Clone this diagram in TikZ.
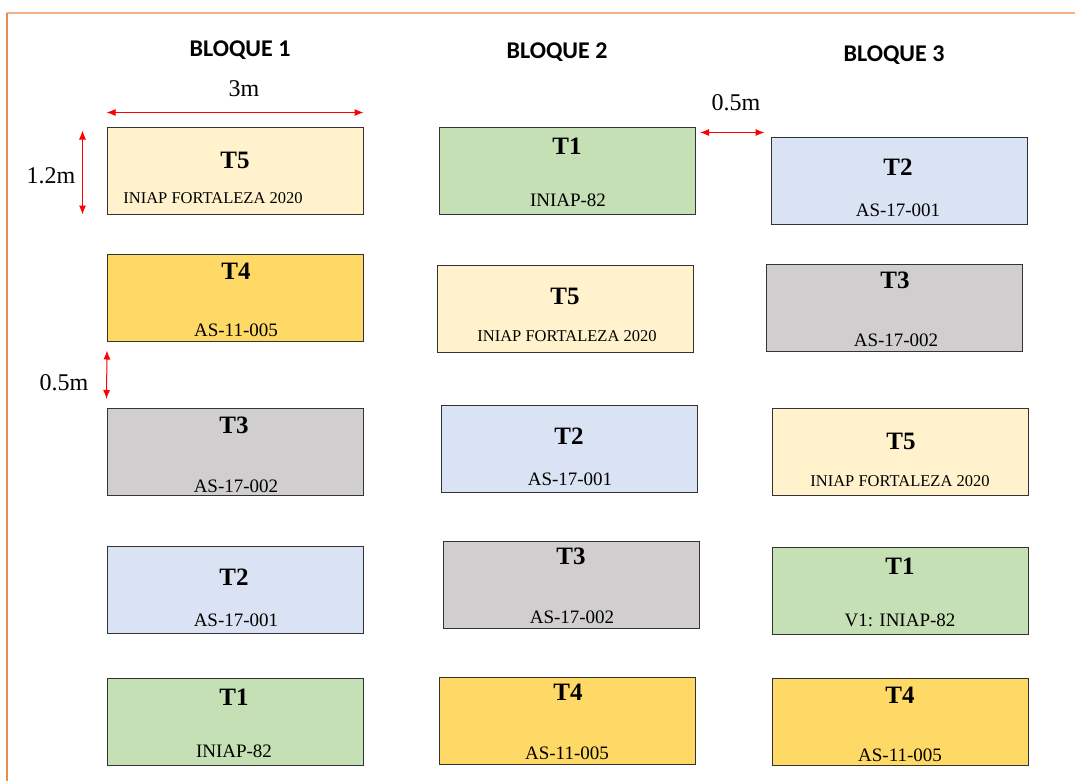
\documentclass[tikz,border=0pt]{standalone}
\usepackage{fontspec}
\setmainfont{Liberation Serif}
\newfontfamily\headfont{Carlito}
\usepackage{xcolor}
\usetikzlibrary{arrows.meta}

\definecolor{cgreen}{RGB}{197,224,180}
\definecolor{ccream}{RGB}{255,242,204}
\definecolor{cgold}{RGB}{255,217,102}
\definecolor{cgray}{RGB}{208,206,206}
\definecolor{cblue}{RGB}{218,227,243}
\definecolor{frametop}{RGB}{244,177,131}
\definecolor{frameleft}{RGB}{230,140,80}

\begin{document}
\begin{tikzpicture}[x=1pt,y=-1pt,
  plot/.style={draw=black!80,line width=1pt,minimum width=256pt,minimum height=87pt,inner sep=0pt},
  tname/.style={inner sep=0pt,font=\fontsize{25}{30}\selectfont\bfseries},
  variety/.style={inner sep=0pt,font=\fontsize{19}{23}\selectfont},
  longvar/.style={inner sep=0pt,font=\fontsize{16.5}{20}\selectfont},
  dimtext/.style={inner sep=0pt,font=\fontsize{24}{28}\selectfont},
  bloque/.style={inner sep=0pt,anchor=base,font=\headfont\fontsize{24}{28}\selectfont\bfseries},
  dim/.style={red,line width=1pt,{Latex[length=9pt,width=7pt]}-{Latex[length=9pt,width=7pt]}}]
\useasboundingbox (0,0) rectangle (1075,781);
% frame
\draw[frametop,line width=1.6pt] (7,13) -- (1075,13);
\draw[frameleft,line width=1.2pt] (7,13) -- (7,781);

% headings
\node[bloque] (h1) at (240,57) {BLOQUE 1};
\node[bloque] (h2) at (557,59) {BLOQUE 2};
\node[bloque] (h3) at (894,62) {BLOQUE 3};

% bloque 1
\node[plot,fill=ccream] (b1t5) at (235,170.5) {};
\node[plot,fill=cgold] (b1t4) at (235.5,297.5) {};
\node[plot,fill=cgray] (b1t3) at (235,452) {};
\node[plot,fill=cblue] (b1t2) at (235,590) {};
\node[plot,fill=cgreen] (b1t1) at (235,722) {};
\node[tname] (n1t5) at (235,160) {T5};
\node[longvar] (v1t5) at (213,198) {INIAP FORTALEZA 2020};
\node[tname] (n1t4) at (236,271) {T4};
\node[variety] (v1t4) at (236,330) {AS-11-005};
\node[tname] (n1t3) at (234,425) {T3};
\node[variety] (v1t3) at (236,486) {AS-17-002};
\node[tname] (n1t2) at (234,577) {T2};
\node[variety] (v1t2) at (236,620) {AS-17-001};
\node[tname] (n1t1) at (234,697) {T1};
\node[variety] (v1t1) at (234,751) {INIAP-82};

% bloque 2
\node[plot,fill=cgreen] (b2t1) at (567.5,170.5) {};
\node[plot,fill=ccream] (b2t5) at (565,308.5) {};
\node[plot,fill=cblue] (b2t2) at (569,449) {};
\node[plot,fill=cgray] (b2t3) at (571,584.5) {};
\node[plot,fill=cgold] (b2t4) at (567,721) {};
\node[tname] (n2t1) at (567,146) {T1};
\node[variety] (v2t1) at (568,200) {INIAP-82};
\node[tname] (n2t5) at (565,296) {T5};
\node[longvar] (v2t5) at (567,336) {INIAP FORTALEZA 2020};
\node[tname] (n2t2) at (569,436) {T2};
\node[variety] (v2t2) at (570,479) {AS-17-001};
\node[tname] (n2t3) at (571,556) {T3};
\node[variety] (v2t3) at (572,617) {AS-17-002};
\node[tname] (n2t4) at (568,692) {T4};
\node[variety] (v2t4) at (567,753) {AS-11-005};

% bloque 3
\node[plot,fill=cblue] (b3t2) at (899,180.5) {};
\node[plot,fill=cgray] (b3t3) at (894.5,307.5) {};
\node[plot,fill=ccream] (b3t5) at (900,452) {};
\node[plot,fill=cgreen] (b3t1) at (900,590.5) {};
\node[plot,fill=cgold] (b3t4) at (900,722) {};
\node[tname] (n3t2) at (898,167) {T2};
\node[variety] (v3t2) at (898,210) {AS-17-001};
\node[tname] (n3t3) at (895,280) {T3};
\node[variety] (v3t3) at (896,340) {AS-17-002};
\node[tname] (n3t5) at (901,441) {T5};
\node[longvar] (v3t5) at (900,481) {INIAP FORTALEZA 2020};
\node[tname] (n3t1) at (900,566) {T1};
\node[variety] (v3t1) at (900,620) {V1: INIAP-82};
\node[tname] (n3t4) at (900,695) {T4};
\node[variety] (v3t4) at (900,755) {AS-11-005};

% dimensions
\draw[dim] ([yshift=14pt]b1t5.north west) -- ([yshift=14pt]b1t5.north east);
\node[dimtext] (w3m) at (244,89) {3m};
\draw[dim] ([shift={(-24pt,-4pt)}]b1t5.north west) -- ([xshift=-24pt]b1t5.south west);
\node[dimtext] (h12m) at (51,176) {1.2m};
\draw[dim] ([yshift=-9pt]b1t4.south west) -- ([yshift=9pt]b1t3.north west);
\node[dimtext] (gapv) at (64,383) {0.5m};
\draw[dim] ([shift={(4pt,-6pt)}]b2t1.north east) -- ([shift={(-6pt,4pt)}]b3t2.north west);
\node[dimtext] (gaph) at (736,103) {0.5m};
\end{tikzpicture}
\end{document}
